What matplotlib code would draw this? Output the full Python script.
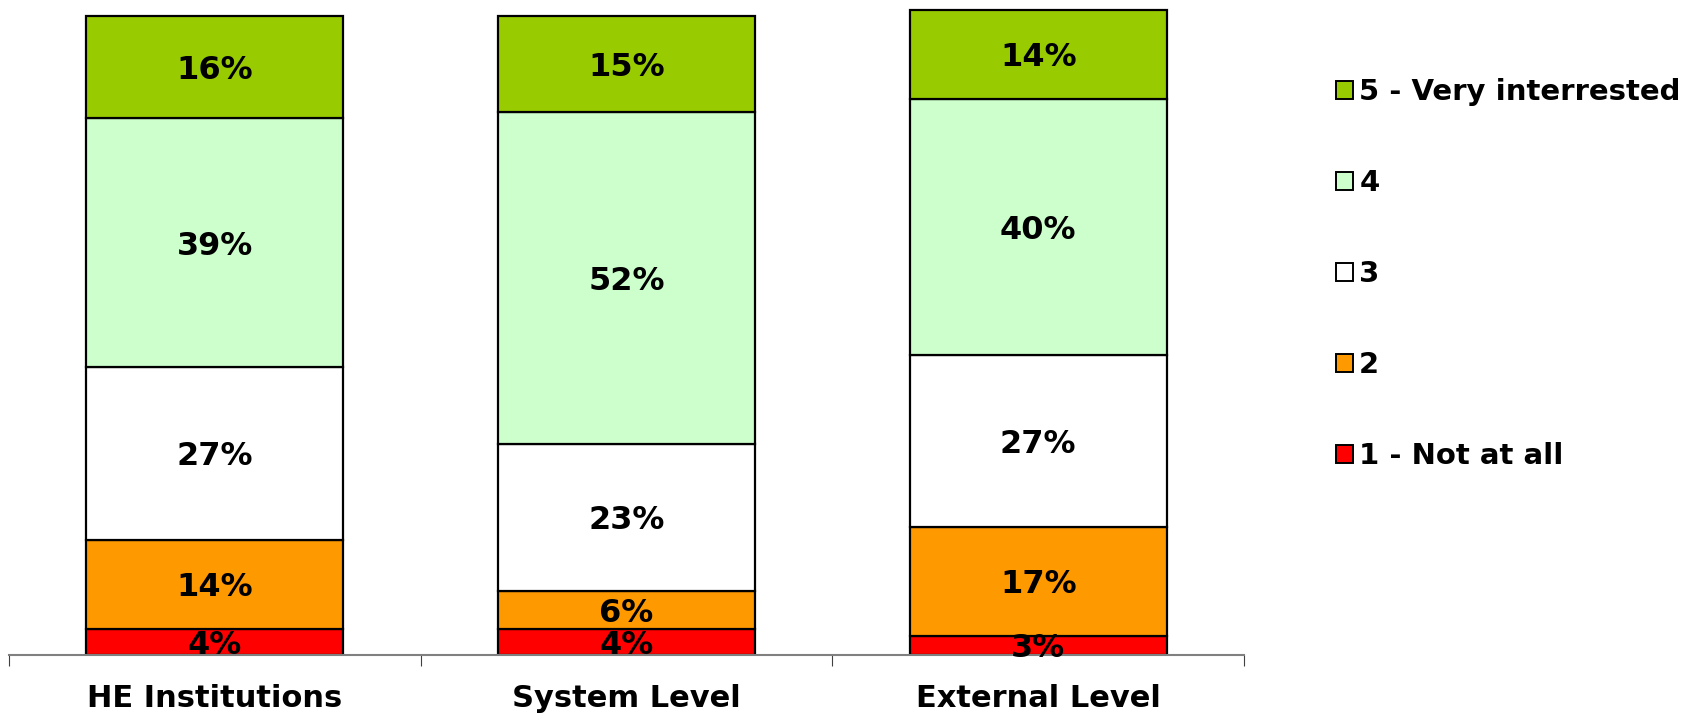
import numpy as np
import matplotlib
matplotlib.use("Agg")
import matplotlib.pyplot as plt
from matplotlib.patches import Patch

# =================== data ===================
categories = ["HE Institutions", "System Level", "External Level"]
levels = ["1 - Not at all", "2", "3", "4", "5 - Very interrested"]
not_at_all = [4, 4, 3]
two = [14, 6, 17]
three = [27, 23, 27]
four = [39, 52, 40]
very = [16, 15, 14]
colors = ["#FF0000", "#FF9900", "#FFFFFF", "#CCFFCC", "#99CC00"]

# =================== plot ===================
plt.rcParams["font.family"] = ["DejaVu Sans"]
fig = plt.figure(figsize=(16.91, 7.21), dpi=100)
ax = fig.add_axes([0.0053, 0.0915, 0.7304, 0.9085])

x = np.arange(len(categories))
series = [not_at_all, two, three, four, very]
bottom = np.zeros(len(categories))
for vals, col in zip(series, colors):
    vals = np.array(vals, dtype=float)
    ax.bar(x, vals, bottom=bottom, width=0.625, color=col,
           edgecolor="black", linewidth=1.6, zorder=2)
    for xi, b, v in zip(x, bottom, vals):
        ax.text(xi, b + v / 2 - 0.5, f"{int(v)}%", ha="center", va="center",
                fontsize=23, fontweight="bold", zorder=3)
    bottom += vals

ax.set_xlim(-0.5, len(categories) - 0.5)
ax.set_ylim(0, 102.5)
ax.set_yticks([])
for s in ["left", "right", "top"]:
    ax.spines[s].set_visible(False)
ax.spines["bottom"].set_color("#808080")
ax.spines["bottom"].set_linewidth(1.5)

ax.set_xticks(x)
ax.set_xticklabels(categories, fontsize=22, fontweight="bold")
ax.tick_params(axis="x", which="major", length=0, pad=21)
ax.set_xticks(np.arange(-0.5, len(categories)), minor=True)
ax.tick_params(axis="x", which="minor", length=8, width=0.8,
               color="#404040", direction="out")

handles = [Patch(facecolor=c, edgecolor="black", linewidth=1.4) for c in colors]
fig.legend(handles[::-1], levels[::-1], loc="upper left",
           bbox_to_anchor=(0.79, 0.892), frameon=False,
           prop={"size": 21, "weight": "bold"},
           handlelength=0.58, handleheight=0.58, handletextpad=0.22,
           labelspacing=2.16, borderpad=0, borderaxespad=0)

fig.savefig("out.png", dpi=100)
plt.close()
